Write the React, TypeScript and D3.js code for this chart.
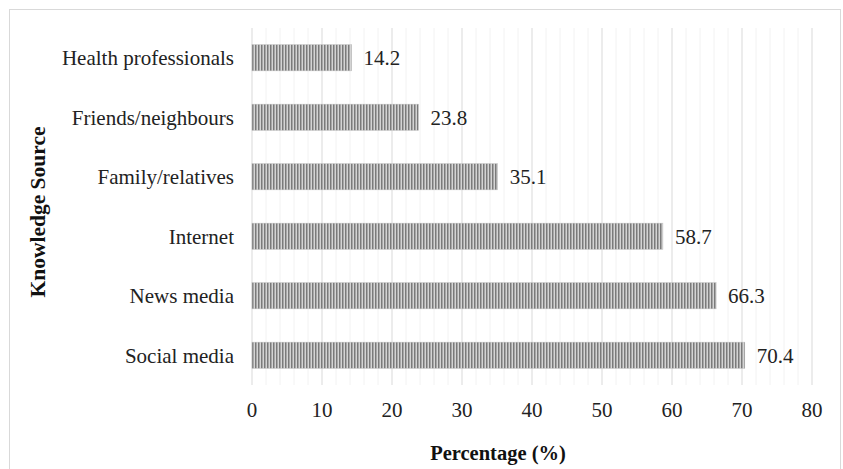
import React, { useRef, useEffect } from 'react';
import * as d3 from 'd3';

const categories = [
  'Health professionals',
  'Friends/neighbours',
  'Family/relatives',
  'Internet',
  'News media',
  'Social media',
];
const values = [14.2, 23.8, 35.1, 58.7, 66.3, 70.4];
const xTicks = [0, 10, 20, 30, 40, 50, 60, 70, 80];

const W = 843;
const H = 469;

const App: React.FC = () => {
  const svgRef = useRef<SVGSVGElement>(null);

  useEffect(() => {
    if (!svgRef.current) return;
    const svg = d3.select(svgRef.current);
    svg.selectAll('*').remove();

    const font = '"Liberation Serif", "Times New Roman", serif';
    const left = 252;
    const right = 812;
    const top = 28;
    const bottom = 385;

    const x = d3.scaleLinear().domain([0, 80]).range([left, right]);
    const y = d3.scaleBand().domain(categories).range([top, bottom]).paddingInner(0.56).paddingOuter(0.28);

    // Stripe pattern for bars
    const defs = svg.append('defs');
    const pat = defs
      .append('pattern')
      .attr('id', 'stripes')
      .attr('patternUnits', 'userSpaceOnUse')
      .attr('width', 3)
      .attr('height', 10);
    pat.append('rect').attr('width', 3).attr('height', 10).attr('fill', '#d4d4d4');
    pat.append('rect').attr('x', 0).attr('width', 1.5).attr('height', 10).attr('fill', '#7a7a7a');

    // Chart border
    svg
      .append('rect')
      .attr('x', 9.5)
      .attr('y', 9.5)
      .attr('width', 831)
      .attr('height', 470)
      .attr('fill', '#fff')
      .attr('stroke', '#d9d9d9')
      .attr('stroke-width', 1);

    // Minor gridlines (every 2)
    const minor = d3.range(0, 81, 2).filter((v) => v % 10 !== 0);
    svg
      .append('g')
      .selectAll('line')
      .data(minor)
      .join('line')
      .attr('x1', (d) => x(d))
      .attr('x2', (d) => x(d))
      .attr('y1', top)
      .attr('y2', bottom)
      .attr('stroke', '#f2f2f2')
      .attr('stroke-width', 1);

    // Major gridlines
    svg
      .append('g')
      .selectAll('line')
      .data(xTicks)
      .join('line')
      .attr('x1', (d) => x(d))
      .attr('x2', (d) => x(d))
      .attr('y1', top)
      .attr('y2', bottom)
      .attr('stroke', '#d9d9d9')
      .attr('stroke-width', 1);

    // Bars
    svg
      .append('g')
      .selectAll('rect')
      .data(values)
      .join('rect')
      .attr('x', x(0))
      .attr('y', (_, i) => y(categories[i])!)
      .attr('width', (d) => x(d) - x(0))
      .attr('height', y.bandwidth())
      .attr('fill', 'url(#stripes)')
      .attr('stroke', '#bdbdbd')
      .attr('stroke-width', 0.5);

    // Value labels
    svg
      .append('g')
      .selectAll('text')
      .data(values)
      .join('text')
      .attr('x', (d) => x(d) + 12)
      .attr('y', (_, i) => y(categories[i])! + y.bandwidth() / 2)
      .attr('dy', '0.35em')
      .attr('font-family', font)
      .attr('font-size', 21)
      .attr('fill', '#222')
      .text((d) => d.toFixed(1));

    // Category labels
    svg
      .append('g')
      .selectAll('text')
      .data(categories)
      .join('text')
      .attr('x', 234)
      .attr('y', (d) => y(d)! + y.bandwidth() / 2)
      .attr('dy', '0.35em')
      .attr('text-anchor', 'end')
      .attr('font-family', font)
      .attr('font-size', 21)
      .attr('fill', '#222')
      .text((d) => d);

    // X tick labels
    svg
      .append('g')
      .selectAll('text')
      .data(xTicks)
      .join('text')
      .attr('x', (d) => x(d))
      .attr('y', 410)
      .attr('dy', '0.35em')
      .attr('text-anchor', 'middle')
      .attr('font-family', font)
      .attr('font-size', 21)
      .attr('fill', '#222')
      .text((d) => d);

    // Axis titles
    svg
      .append('text')
      .attr('x', 498)
      .attr('y', 453)
      .attr('dy', '0.35em')
      .attr('text-anchor', 'middle')
      .attr('font-family', font)
      .attr('font-size', 20.5)
      .attr('font-weight', 'bold')
      .attr('fill', '#111')
      .text('Percentage (%)');

    svg
      .append('text')
      .attr('transform', `translate(37, 212) rotate(-90)`)
      .attr('dy', '0.35em')
      .attr('text-anchor', 'middle')
      .attr('font-family', font)
      .attr('font-size', 21.5)
      .attr('font-weight', 'bold')
      .attr('fill', '#111')
      .text('Knowledge Source');
  }, []);

  return (
    <svg
      ref={svgRef}
      width={W}
      height={H}
      style={{ position: 'absolute', left: 0, top: 0, background: '#fff' }}
    />
  );
};

export default App;
